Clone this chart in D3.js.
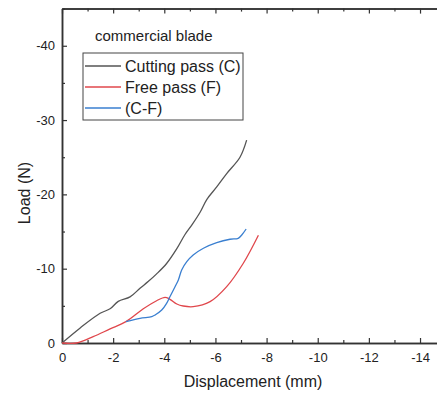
<!DOCTYPE html>
<html>
<head>
<meta charset="utf-8">
<script src="https://cdn.jsdelivr.net/npm/d3@7"></script>
<style>
  body { margin: 0; background: #fff; }
  svg { display: block; font-family: "Liberation Sans", Arial, sans-serif; }
</style>
</head>
<body>
<div id="chart"></div>
<script>
// displacement (mm), load (N)
const cuttingPass = [
  [0, 0], [-0.7, -2.0], [-1.49, -4.0], [-1.88, -4.6], [-2.2, -5.6], [-2.66, -6.2],
  [-3.05, -7.36], [-3.38, -8.3], [-3.7, -9.3], [-4.09, -10.7], [-4.49, -12.7],
  [-4.81, -14.6], [-5.1, -16.0], [-5.4, -17.6], [-5.66, -19.3], [-6.05, -21.0],
  [-6.44, -22.8], [-6.96, -25.0], [-7.22, -27.3]
];
const freePass = [
  [0, 0], [-0.57, 0], [-1.22, -0.85], [-1.88, -1.9], [-2.5, -2.87], [-3.18, -4.6],
  [-3.7, -5.69], [-4.03, -6.15], [-4.22, -5.88], [-4.49, -5.25], [-4.74, -4.98],
  [-5.13, -4.89], [-5.79, -5.56], [-6.44, -7.58], [-7.09, -10.73], [-7.68, -14.5]
];
const diffCF = [
  [-2.5, -2.87], [-3.05, -3.32], [-3.51, -3.54], [-3.64, -3.77], [-3.9, -4.44],
  [-4.09, -5.34], [-4.22, -6.23], [-4.42, -7.58], [-4.55, -8.48], [-4.68, -9.83],
  [-4.88, -10.94], [-5.13, -11.84], [-5.53, -12.75], [-6.05, -13.5], [-6.57, -13.96],
  [-6.89, -14.09], [-7.03, -14.54], [-7.2, -15.34]
];

const seriesNames = ["Cutting pass (C)", "Free pass (F)", "(C-F)"];
const seriesColors = ["#555555", "#e0474c", "#3a7fd0"];
const xMajorTicks = [0, -2, -4, -6, -8, -10, -12, -14];
const xMinorTicks = [-1, -3, -5, -7, -9, -11, -13, -15];
const yMajorTicks = [0, -10, -20, -30, -40];
const yMinorTicks = [-5, -15, -25, -35, -45];

const width = 437, height = 394;

const svg = d3.select("#chart").append("svg")
    .attr("width", width)
    .attr("height", height);

const x = d3.scaleLinear().domain([0, -15]).range([62, 445.6]);
const y = d3.scaleLinear().domain([0, -45]).range([343, 8.6]);

const axisColor = "#333";

function styleAxis(g) {
    g.selectAll("path.domain").attr("stroke", axisColor).attr("stroke-width", 1.5);
    g.selectAll(".tick line").attr("stroke", axisColor).attr("stroke-width", 1.2);
    g.selectAll(".tick text").attr("fill", "#222").style("font-size", "13px");
}

// bottom axis
svg.append("g")
    .attr("transform", `translate(0,${y(0)})`)
    .call(d3.axisBottom(x).tickValues(xMajorTicks).tickSize(-5).tickSizeOuter(0)
        .tickPadding(10).tickFormat(d => String(d)))
    .call(styleAxis);
svg.append("g")
    .attr("transform", `translate(0,${y(0)})`)
    .call(d3.axisBottom(x).tickValues(xMinorTicks).tickSize(-3).tickSizeOuter(0).tickFormat(""))
    .call(styleAxis);

// top border
svg.append("g")
    .attr("transform", `translate(0,${y(-45)})`)
    .call(d3.axisTop(x).tickValues(xMajorTicks).tickSize(-5).tickSizeOuter(0).tickFormat(""))
    .call(styleAxis);
svg.append("g")
    .attr("transform", `translate(0,${y(-45)})`)
    .call(d3.axisTop(x).tickValues(xMinorTicks).tickSize(-3).tickSizeOuter(0).tickFormat(""))
    .call(styleAxis);

// left axis
svg.append("g")
    .attr("transform", `translate(${x(0)},0)`)
    .call(d3.axisLeft(y).tickValues(yMajorTicks).tickSize(-5).tickSizeOuter(0)
        .tickPadding(7).tickFormat(d => String(d)))
    .call(styleAxis);
svg.append("g")
    .attr("transform", `translate(${x(0)},0)`)
    .call(d3.axisLeft(y).tickValues(yMinorTicks).tickSize(-3).tickSizeOuter(0).tickFormat(""))
    .call(styleAxis);

// lines
const line = d3.line()
    .x(d => x(d[0]))
    .y(d => y(d[1]))
    .curve(d3.curveCatmullRom.alpha(0.5));

[cuttingPass, freePass, diffCF].forEach((data, i) => {
    svg.append("path")
        .datum(data)
        .attr("fill", "none")
        .attr("stroke", seriesColors[i])
        .attr("stroke-width", 1.3)
        .attr("d", line);
});

// axis titles
svg.append("text")
    .attr("x", 253).attr("y", 387)
    .attr("text-anchor", "middle")
    .attr("fill", "#222")
    .style("font-size", "16px")
    .text("Displacement (mm)");

svg.append("text")
    .attr("transform", "translate(30,193) rotate(-90)")
    .attr("text-anchor", "middle")
    .attr("fill", "#222")
    .style("font-size", "16px")
    .text("Load (N)");

// annotation
svg.append("text")
    .attr("x", 95).attr("y", 41)
    .attr("fill", "#222")
    .style("font-size", "15px")
    .text("commercial blade");

// legend
const legend = svg.append("g");
legend.append("rect")
    .attr("x", 83).attr("y", 53)
    .attr("width", 160).attr("height", 67)
    .attr("fill", "#fff")
    .attr("stroke", "#444")
    .attr("stroke-width", 1);

seriesNames.forEach((name, i) => {
    const cy = 66 + i * 21;
    legend.append("line")
        .attr("x1", 85).attr("x2", 121)
        .attr("y1", cy).attr("y2", cy)
        .attr("stroke", seriesColors[i])
        .attr("stroke-width", 1.5);
    legend.append("text")
        .attr("x", 125).attr("y", cy + 5.5)
        .attr("fill", "#222")
        .style("font-size", "16px")
        .text(name);
});
</script>
</body>
</html>
